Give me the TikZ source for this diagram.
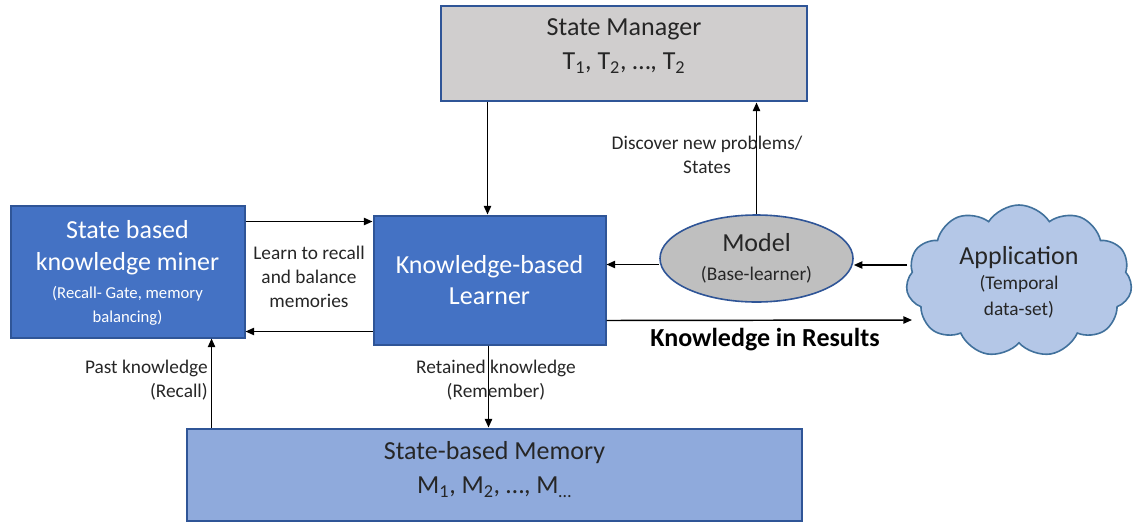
\documentclass[tikz,border=0pt]{standalone}
\usepackage{fontspec}
\setmainfont{Carlito}
\usetikzlibrary{shapes.geometric,shapes.symbols,arrows.meta,calc}
\newcommand\pxu{0.75pt}
\newcommand\bigf{\fontsize{19.5}{25.5}\selectfont}
\newcommand\subf{\fontsize{12.5}{18.5}\selectfont}
\newcommand\midf{\fontsize{14.5}{17.5}\selectfont}
\definecolor{boxblue}{HTML}{4472C4}
\definecolor{edgeblue}{HTML}{2F5597}
\definecolor{memblue}{HTML}{8FAADC}
\definecolor{mgrgray}{HTML}{D0CECE}
\definecolor{modgray}{HTML}{BFBFBF}
\definecolor{cloudblue}{HTML}{B4C7E7}
\definecolor{cloudedge}{HTML}{41719C}
\definecolor{txtgray}{HTML}{262626}
\tikzset{
  blk/.style={draw=edgeblue, line width=1.5pt, align=center, inner sep=2pt},
  arr/.style={-{Triangle[length=6.5pt,width=5.5pt]}, line width=1.1pt},
  lbl/.style={align=center, text=txtgray, inner sep=0pt, font=\fontsize{14.5}{18}\selectfont},
}
\begin{document}
\begin{tikzpicture}[x=\pxu, y=-\pxu]
\useasboundingbox (0,0) rectangle (1135,529);

% main blocks
\node[blk, fill=mgrgray, line width=2.2pt, minimum width=366*\pxu, minimum height=95*\pxu, text=txtgray, font=\bigf,
  text depth=14pt]
  (sm) at (624,53.5) {State Manager\\T\textsubscript{1}, T\textsubscript{2}, \dots, T\textsubscript{2}};

\node[blk, fill=boxblue, minimum width=234*\pxu, minimum height=132*\pxu, text=white, font=\fontsize{19.5}{24}\selectfont,
  text depth=0pt]
  (miner) at (127.5,271.5) {State based\\knowledge miner\\[-3pt]\subf (Recall- Gate, memory\\[-5.5pt]\subf balancing)};

\node[blk, fill=boxblue, minimum width=232*\pxu, minimum height=129*\pxu, text=white, font=\fontsize{19.5}{23}\selectfont]
  (learner) at (489.5,280) {Knowledge-based\\Learner};

\node[ellipse, draw=edgeblue, line width=1.2pt, fill=modgray, minimum width=193*\pxu, minimum height=87*\pxu,
  align=center, inner sep=0pt, text=txtgray, font=\fontsize{19.5}{22}\selectfont]
  (model) at (756.5,258.5) {Model\\\midf (Base-learner)};

\node[cloud, cloud puffs=11, cloud puff arc=115, aspect=1.45, draw=cloudedge, line width=1.2pt, fill=cloudblue,
  minimum width=226*\pxu, minimum height=152*\pxu, align=center, inner sep=0pt, text=txtgray,
  font=\fontsize{19.5}{21}\selectfont, text depth=0pt]
  (cloud) at (1019,281) {Application\\[-2pt]\midf (Temporal\\[-1.5pt]\midf data-set)};

\node[blk, fill=memblue, line width=2.2pt, minimum width=615*\pxu, minimum height=92*\pxu, text=txtgray, font=\bigf,
  text depth=12pt]
  (mem) at (494.5,475) {State-based Memory\\M\textsubscript{1}, M\textsubscript{2}, \dots, M\textsubscript{\dots}};

% connectors
\coordinate (s1) at ([xshift=-2*\pxu]sm.south -| learner.north);
\draw[arr] (s1) -- (s1 |- learner.north);
\draw[arr] (model.north) -- (model.north |- sm.south);
\coordinate (a1) at ([yshift=-17*\pxu]miner.north east);
\draw[arr] (a1) -- (a1 -| learner.west);
\coordinate (a2) at ([yshift=14*\pxu]learner.south west);
\draw[arr] (a2) -- (a2 -| miner.east);
\coordinate (a3) at ([yshift=-6*\pxu]model.west);
\draw[arr] (a3) -- (a3 -| learner.east);
\coordinate (c1) at (907,265);
\draw[arr] (c1) -- (c1 -| model.east);
\coordinate (a4) at ([yshift=25*\pxu]learner.south east);
\coordinate (c2) at (912,320);
\draw[arr] (a4) -- (c2);
\coordinate (a5) at ([xshift=26*\pxu]mem.north west);
\draw[arr] (a5) -- (a5 |- miner.south);
\coordinate (a6) at ([xshift=-1*\pxu]learner.south);
\draw[arr] (a6) -- (a6 |- mem.north);

% connector labels
\node[lbl] (l1) at (707,155) {Discover new problems/\\States};
\node[lbl] (l2) at (309,277) {Learn to recall\\and balance\\memories};
\node[lbl, text=black, font=\bfseries\fontsize{19.5}{22}\selectfont] (l3) at (765,340) {Knowledge in Results};
\node[lbl, align=right, anchor=east] (l4) at (208,380) {Past knowledge\\(Recall)};
\node[lbl] (l5) at (496,380) {Retained knowledge\\(Remember)};
\end{tikzpicture}
\end{document}
